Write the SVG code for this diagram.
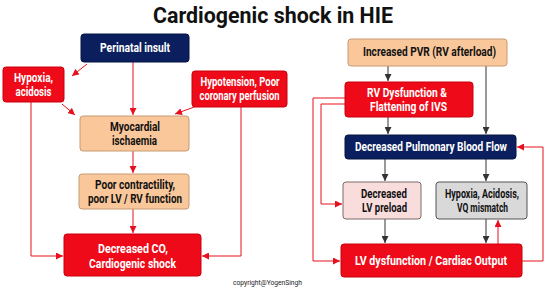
<svg xmlns="http://www.w3.org/2000/svg" width="550" height="290" viewBox="0 0 550 290">
<defs>
<marker id="ar" viewBox="0 0 10 10" refX="10" refY="5" markerWidth="7" markerHeight="7" markerUnits="userSpaceOnUse" orient="auto"><path d="M0,0 L10,5 L0,10 z" fill="#e8101e"/></marker>
<marker id="ag" viewBox="0 0 10 10" refX="10" refY="5" markerWidth="7" markerHeight="7" markerUnits="userSpaceOnUse" orient="auto"><path d="M0,0 L10,5 L0,10 z" fill="#333"/></marker>
</defs>
<style>
text{font-family:Roboto,"Liberation Sans",sans-serif;font-weight:bold;text-anchor:middle;font-size:12px}
.w{fill:#fff}.k{fill:#111}
.navy{fill:#0b1f5e;stroke:#061440;stroke-width:1}
.red{fill:#ee0a18;stroke:#c8000c;stroke-width:1}
.org{fill:#f9c79a;stroke:#c89a72;stroke-width:1}
.pink{fill:#f9dcdc;stroke:#7a6a6a;stroke-width:1}
.grey{fill:#d9d9d9;stroke:#555;stroke-width:1}
.rl{fill:none;stroke:#e8101e;stroke-width:1;marker-end:url(#ar)}
.gl{fill:none;stroke:#333;stroke-width:1;marker-end:url(#ag)}
</style>
<rect width="550" height="290" fill="#fff"/>
<text x="273" y="23" style="font-size:22px" textLength="240" lengthAdjust="spacingAndGlyphs" fill="#111">Cardiogenic shock in HIE</text>

<g id="connectors">
<line class="rl" x1="133" y1="62" x2="133" y2="115"/>
<line class="rl" x1="87" y1="64" x2="72" y2="76"/>
<line class="rl" x1="62" y1="104" x2="75" y2="115"/>
<line class="rl" x1="197" y1="106" x2="175" y2="114"/>
<polyline class="rl" points="31,102 31,256 63,256"/>
<polyline class="rl" points="241,107 241,256 202,256"/>
<line class="rl" x1="133" y1="151" x2="133" y2="173"/>
<line class="rl" x1="133" y1="209" x2="133" y2="233"/>

<line class="gl" x1="388" y1="66" x2="388" y2="81"/>
<line class="gl" x1="486" y1="66" x2="486" y2="134"/>
<line class="gl" x1="388" y1="117" x2="388" y2="134"/>
<line class="gl" x1="385" y1="159" x2="385" y2="181"/>
<line class="gl" x1="486" y1="159" x2="486" y2="181"/>
<line class="gl" x1="385" y1="219" x2="385" y2="243"/>
<line class="gl" x1="486" y1="219" x2="486" y2="243"/>
<line class="rl" x1="498" y1="244" x2="498" y2="220"/>
<polyline class="rl" points="345,98 313,98 313,261 340,261"/>
<polyline class="rl" points="345,104 321,104 321,204 342,204"/>
<polyline class="rl" points="522,261 543,261 543,147 517,147"/>
</g>

<g id="n-perinatal"><rect class="navy" x="81" y="34" width="108" height="28" rx="3"/><text class="w" x="135" y="52" textLength="70" lengthAdjust="spacingAndGlyphs">Perinatal insult</text></g>
<g id="n-hypoxia"><rect class="red" x="3" y="67" width="61" height="35" rx="3"/><text class="w" x="33.5" y="82" textLength="39" lengthAdjust="spacingAndGlyphs">Hypoxia,</text><text class="w" x="33.5" y="96" textLength="36" lengthAdjust="spacingAndGlyphs">acidosis</text></g>
<g id="n-hypotension"><rect class="red" x="192" y="71" width="95" height="36" rx="3"/><text class="w" x="240" y="86" textLength="79" lengthAdjust="spacingAndGlyphs">Hypotension, Poor</text><text class="w" x="239.5" y="100" textLength="80" lengthAdjust="spacingAndGlyphs">coronary perfusion</text></g>
<g id="n-myocardial"><rect class="org" x="80" y="116" width="109" height="35" rx="3"/><text class="k" x="135" y="131" textLength="50" lengthAdjust="spacingAndGlyphs">Myocardial</text><text class="k" x="134.5" y="145" textLength="45" lengthAdjust="spacingAndGlyphs">ischaemia</text></g>
<g id="n-poor"><rect class="org" x="79" y="174" width="110" height="35" rx="3"/><text class="k" x="135" y="189" textLength="80" lengthAdjust="spacingAndGlyphs">Poor contractility,</text><text class="k" x="135" y="203" textLength="94" lengthAdjust="spacingAndGlyphs">poor LV / RV function</text></g>
<g id="n-decco"><rect class="red" x="64" y="234" width="137" height="42" rx="3"/><text class="w" x="133" y="253" style="font-size:13.5px" textLength="70" lengthAdjust="spacingAndGlyphs">Decreased CO,</text><text class="w" x="132.5" y="268" style="font-size:13.5px" textLength="87" lengthAdjust="spacingAndGlyphs">Cardiogenic shock</text></g>

<g id="n-pvr"><rect class="org" x="348" y="39" width="159" height="27" rx="3"/><text class="k" x="429.5" y="56" textLength="133" lengthAdjust="spacingAndGlyphs">Increased PVR (RV afterload)</text></g>
<g id="n-rv"><rect class="red" x="345" y="82" width="128" height="35" rx="3"/><text class="w" x="407" y="97" textLength="80" lengthAdjust="spacingAndGlyphs">RV Dysfunction &amp;</text><text class="w" x="408.5" y="111" textLength="77" lengthAdjust="spacingAndGlyphs">Flattening of IVS</text></g>
<g id="n-dpbf"><rect class="navy" x="345" y="135" width="171" height="24" rx="3"/><text class="w" x="431" y="151" textLength="152" lengthAdjust="spacingAndGlyphs">Decreased Pulmonary Blood Flow</text></g>
<g id="n-lvpre"><rect class="pink" x="343" y="182" width="78" height="37" rx="3"/><text class="k" x="384" y="198" textLength="46" lengthAdjust="spacingAndGlyphs">Decreased</text><text class="k" x="384.5" y="212" textLength="45" lengthAdjust="spacingAndGlyphs">LV preload</text></g>
<g id="n-hypoxia2"><rect class="grey" x="436" y="182" width="91" height="37" rx="3"/><text class="k" x="482" y="198" textLength="74" lengthAdjust="spacingAndGlyphs">Hypoxia, Acidosis,</text><text class="k" x="482.5" y="212" textLength="51" lengthAdjust="spacingAndGlyphs">VQ mismatch</text></g>
<g id="n-lvdys"><rect class="red" x="341" y="244" width="181" height="33" rx="3"/><text class="w" x="431" y="265" style="font-size:13px" textLength="152" lengthAdjust="spacingAndGlyphs">LV dysfunction / Cardiac Output</text></g>

<text x="267.5" y="285" style="font-size:6.5px;font-weight:normal" textLength="69" lengthAdjust="spacingAndGlyphs" fill="#222">copyright@YogenSingh</text>
</svg>
